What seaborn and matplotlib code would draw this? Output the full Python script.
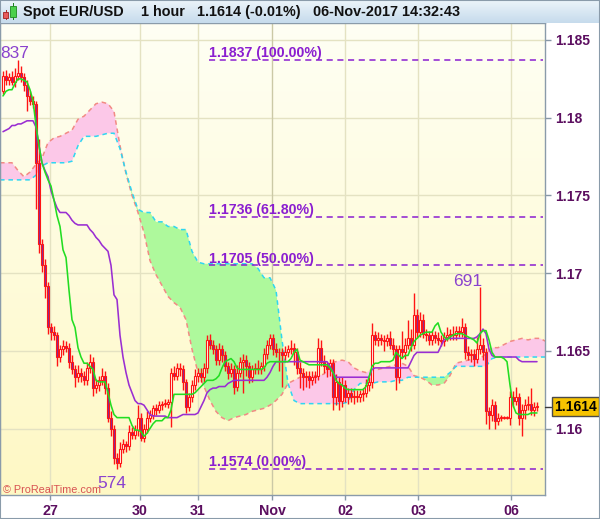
import numpy as np
import pandas as pd
import matplotlib
matplotlib.use("Agg")
import matplotlib.pyplot as plt
import matplotlib.transforms as mtransforms
from matplotlib.patches import Rectangle
import seaborn as sns

sns.set_style("white")
plt.rcParams["font.family"] = ["Liberation Sans", "DejaVu Sans"]

# ---------------------------------------------------------------- data
first_open = 1.1817
closes = [
    1.1827, 1.1824, 1.1826, 1.1823, 1.1827, 1.1829, 1.1826, 1.1821, 1.1814, 1.1811,
    1.1809, 1.1771, 1.1719, 1.1705, 1.1692, 1.1665, 1.1662, 1.1660, 1.1646, 1.1651,
    1.1653, 1.1652, 1.1643, 1.1638, 1.1633, 1.1636, 1.1634, 1.1631, 1.1639, 1.1643,
    1.1626, 1.1628, 1.1631, 1.1634, 1.1626, 1.1607, 1.1600, 1.1581, 1.1578, 1.1587,
    1.1590, 1.1589, 1.1598, 1.1596, 1.1599, 1.1607, 1.1594, 1.1600, 1.1607, 1.1609,
    1.1613, 1.1612, 1.1615, 1.1616, 1.1616, 1.1617, 1.1636, 1.1634, 1.1639, 1.1638,
    1.1630, 1.1614, 1.1620, 1.1628, 1.1634, 1.1636, 1.1633, 1.1639, 1.1657, 1.1654,
    1.1651, 1.1644, 1.1651, 1.1647, 1.1640, 1.1636, 1.1638, 1.1627, 1.1636, 1.1643,
    1.1644, 1.1640, 1.1633, 1.1638, 1.1639, 1.1638, 1.1640, 1.1648, 1.1654, 1.1658,
    1.1651, 1.1649, 1.1649, 1.1647, 1.1649, 1.1651, 1.1652, 1.1649, 1.1639, 1.1636,
    1.1633, 1.1634, 1.1631, 1.1633, 1.1634, 1.1652, 1.1643, 1.1640, 1.1638, 1.1642,
    1.1620, 1.1630, 1.1618, 1.1628, 1.1620, 1.1623, 1.1620, 1.1621, 1.1620, 1.1622,
    1.1623, 1.1628, 1.1630, 1.1660, 1.1657, 1.1658, 1.1657, 1.1656, 1.1658, 1.1654,
    1.1651, 1.1633, 1.1651, 1.1649, 1.1654, 1.1658, 1.1654, 1.1673, 1.1662, 1.1670,
    1.1661, 1.1660, 1.1657, 1.1660, 1.1658, 1.1657, 1.1656, 1.1659, 1.1660, 1.1661,
    1.1660, 1.1663, 1.1662, 1.1665, 1.1649, 1.1647, 1.1648, 1.1645, 1.1651, 1.1654,
    1.1649, 1.1611, 1.1609, 1.1615, 1.1605, 1.1607, 1.1607, 1.1607, 1.1607, 1.1620,
    1.1618, 1.1620, 1.1607, 1.1612, 1.1615, 1.1616, 1.1612, 1.1614, 1.1614,
]
up_wick_pips = [
    3, 4, 3, 4, 5, 8, 4, 3, 3, 3,
    3, 2, 15, 3, 4, 2, 3, 4, 2, 3,
    4, 3, 3, 4, 3, 5, 3, 3, 4, 5,
    3, 4, 3, 5, 3, 3, 4, 2, 3, 4,
    3, 2, 4, 3, 3, 8, 3, 3, 4, 3,
    2, 3, 3, 2, 3, 2, 3, 4, 3, 3,
    3, 2, 3, 3, 4, 3, 3, 3, 3, 4,
    3, 3, 4, 3, 3, 3, 4, 3, 5, 3,
    4, 3, 3, 3, 3, 5, 3, 4, 3, 3,
    3, 4, 3, 3, 4, 3, 5, 3, 3, 4,
    3, 3, 3, 4, 3, 6, 5, 4, 3, 3,
    3, 5, 3, 5, 3, 3, 3, 4, 4, 3,
    3, 4, 3, 8, 3, 4, 3, 3, 3, 5,
    4, 3, 3, 12, 4, 12, 6, 14, 4, 5,
    4, 3, 3, 3, 3, 4, 3, 3, 5, 3,
    5, 3, 3, 6, 3, 4, 3, 3, 8, 37,
    4, 3, 3, 4, 3, 3, 2, 1, 1, 4,
    4, 7, 3, 4, 4, 5, 10, 3, 3,
]
down_wick_pips = [
    2, 3, 3, 2, 3, 3, 3, 4, 10, 3,
    3, 30, 6, 4, 8, 4, 5, 3, 6, 3,
    4, 3, 4, 3, 6, 3, 4, 3, 3, 3,
    5, 3, 4, 3, 4, 3, 5, 4, 4, 3,
    3, 4, 3, 3, 3, 4, 2, 3, 3, 3,
    3, 3, 2, 3, 2, 3, 16, 3, 3, 4,
    5, 4, 3, 3, 3, 4, 3, 3, 3, 3,
    3, 3, 3, 4, 3, 4, 3, 5, 3, 3,
    20, 6, 4, 3, 3, 3, 3, 3, 3, 3,
    4, 3, 12, 20, 3, 3, 3, 8, 4, 10,
    8, 6, 5, 3, 4, 3, 3, 4, 5, 4,
    8, 5, 6, 4, 3, 4, 3, 4, 3, 3,
    4, 3, 4, 4, 3, 4, 3, 6, 3, 3,
    4, 8, 4, 3, 4, 3, 4, 3, 4, 3,
    3, 4, 3, 3, 3, 3, 3, 3, 3, 3,
    3, 3, 3, 3, 4, 3, 4, 5, 3, 3,
    5, 8, 9, 4, 5, 3, 2, 1, 1, 5,
    4, 3, 5, 12, 6, 3, 3, 4, 3,
]
tenkan = [
    1.1814, 1.1817, 1.1818, 1.1818, 1.1822, 1.1825, 1.1825, 1.1824, 1.1823, 1.1818,
    1.1811, 1.1795, 1.1782, 1.1771, 1.1765, 1.1760, 1.1756, 1.1747, 1.1737, 1.1730,
    1.1715, 1.1710, 1.1689, 1.1670, 1.1665, 1.1652, 1.1646, 1.1642, 1.1642, 1.1640,
    1.1638, 1.1631, 1.1630, 1.1630, 1.1630, 1.1623, 1.1615, 1.1609, 1.1607, 1.1607,
    1.1607, 1.1607, 1.1607, 1.1602, 1.1599, 1.1599, 1.1598, 1.1595, 1.1597, 1.1600,
    1.1603, 1.1605, 1.1605, 1.1605, 1.1607, 1.1607, 1.1612, 1.1622, 1.1622, 1.1622,
    1.1622, 1.1622, 1.1622, 1.1622, 1.1623, 1.1625, 1.1627, 1.1629, 1.1631, 1.1631,
    1.1631, 1.1632, 1.1634, 1.1639, 1.1643, 1.1644, 1.1645, 1.1643, 1.1639, 1.1638,
    1.1638, 1.1638, 1.1638, 1.1638, 1.1638, 1.1638, 1.1638, 1.1639, 1.1642, 1.1643,
    1.1643, 1.1643, 1.1643, 1.1643, 1.1643, 1.1643, 1.1645, 1.1649, 1.1651, 1.1644,
    1.1643, 1.1642, 1.1641, 1.1641, 1.1641, 1.1641, 1.1641, 1.1641, 1.1641, 1.1639,
    1.1636, 1.1631, 1.1629, 1.1628, 1.1626, 1.1625, 1.1625, 1.1625, 1.1625, 1.1625,
    1.1625, 1.1627, 1.1633, 1.1640, 1.1642, 1.1642, 1.1643, 1.1643, 1.1643, 1.1643,
    1.1644, 1.1649, 1.1647, 1.1645, 1.1647, 1.1647, 1.1652, 1.1656, 1.1658, 1.1660,
    1.1661, 1.1662, 1.1662, 1.1662, 1.1666, 1.1668, 1.1662, 1.1659, 1.1657, 1.1659,
    1.1660, 1.1661, 1.1661, 1.1661, 1.1660, 1.1659, 1.1658, 1.1657, 1.1655, 1.1661,
    1.1663, 1.1663, 1.1657, 1.1649, 1.1646, 1.1646, 1.1646, 1.1645, 1.1643, 1.1628,
    1.1615, 1.1610, 1.1609, 1.1609, 1.1609, 1.1609, 1.1610, 1.1610, 1.1610,
]
kijun = [
    1.1791, 1.1792, 1.1793, 1.1795, 1.1795, 1.1796, 1.1796, 1.1797, 1.1798, 1.1798,
    1.1798, 1.1794, 1.1782, 1.1771, 1.1766, 1.1762, 1.1753, 1.1747, 1.1742, 1.1739,
    1.1739, 1.1739, 1.1737, 1.1734, 1.1732, 1.1731, 1.1731, 1.1731, 1.1731, 1.1728,
    1.1726, 1.1723, 1.1721, 1.1718, 1.1716, 1.1714, 1.1705, 1.1686, 1.1683, 1.1660,
    1.1646, 1.1636, 1.1628, 1.1623, 1.1618, 1.1616, 1.1616, 1.1615, 1.1612, 1.1609,
    1.1608, 1.1608, 1.1608, 1.1608, 1.1608, 1.1607, 1.1607, 1.1607, 1.1607, 1.1608,
    1.1609, 1.1609, 1.1609, 1.1609, 1.1609, 1.1610, 1.1614, 1.1618, 1.1623, 1.1625,
    1.1626, 1.1626, 1.1627, 1.1627, 1.1627, 1.1629, 1.1630, 1.1631, 1.1631, 1.1631,
    1.1631, 1.1631, 1.1631, 1.1631, 1.1631, 1.1631, 1.1631, 1.1631, 1.1633, 1.1636,
    1.1640, 1.1643, 1.1643, 1.1643, 1.1643, 1.1643, 1.1643, 1.1643, 1.1643, 1.1643,
    1.1643, 1.1643, 1.1643, 1.1643, 1.1643, 1.1643, 1.1643, 1.1643, 1.1643, 1.1640,
    1.1636, 1.1633, 1.1633, 1.1633, 1.1633, 1.1633, 1.1633, 1.1633, 1.1633, 1.1633,
    1.1633, 1.1633, 1.1633, 1.1638, 1.1639, 1.1639, 1.1639, 1.1639, 1.1639, 1.1639,
    1.1639, 1.1639, 1.1639, 1.1639, 1.1639, 1.1639, 1.1643, 1.1647, 1.1649, 1.1649,
    1.1649, 1.1649, 1.1649, 1.1649, 1.1649, 1.1649, 1.1653, 1.1657, 1.1658, 1.1658,
    1.1658, 1.1658, 1.1658, 1.1658, 1.1658, 1.1658, 1.1658, 1.1658, 1.1659, 1.1661,
    1.1664, 1.1661, 1.1651, 1.1647, 1.1646, 1.1646, 1.1646, 1.1646, 1.1646, 1.1646,
    1.1646, 1.1646, 1.1644, 1.1643, 1.1643, 1.1643, 1.1643, 1.1643, 1.1643,
]
# leading spans (cloud), one value every two candles, starting one candle before the first
span_a = [
    1.1771, 1.1771, 1.1771, 1.1766, 1.1762, 1.1765, 1.1770, 1.1774, 1.1784, 1.1787,
    1.1788, 1.1790, 1.1792, 1.1799, 1.1801, 1.1805, 1.1809, 1.1810, 1.1809, 1.1804,
    1.1782, 1.1764, 1.1750, 1.1739, 1.1726, 1.1708, 1.1699, 1.1692, 1.1685, 1.1681,
    1.1678, 1.1670, 1.1651, 1.1636, 1.1627, 1.1618, 1.1611, 1.1607, 1.1605, 1.1607,
    1.1608, 1.1609, 1.1611, 1.1612, 1.1613, 1.1615, 1.1618, 1.1622, 1.1629, 1.1631,
    1.1633, 1.1633, 1.1634, 1.1634, 1.1635, 1.1642, 1.1643, 1.1644, 1.1643, 1.1639,
    1.1637, 1.1636, 1.1638, 1.1638, 1.1639, 1.1640, 1.1641, 1.1642, 1.1640, 1.1634,
    1.1633, 1.1631, 1.1628, 1.1628, 1.1629, 1.1634, 1.1642, 1.1643, 1.1644, 1.1645,
    1.1645, 1.1648, 1.1652, 1.1652, 1.1654, 1.1656, 1.1657, 1.1658, 1.1657, 1.1658,
    1.1658, 1.1656,
]
span_b = [
    1.1760, 1.1760, 1.1760, 1.1760, 1.1760, 1.1760, 1.1763, 1.1769, 1.1771, 1.1771,
    1.1771, 1.1771, 1.1772, 1.1782, 1.1788, 1.1788, 1.1788, 1.1789, 1.1790, 1.1790,
    1.1780, 1.1765, 1.1752, 1.1741, 1.1739, 1.1739, 1.1733, 1.1733, 1.1730, 1.1730,
    1.1728, 1.1728, 1.1714, 1.1707, 1.1706, 1.1706, 1.1706, 1.1706, 1.1706, 1.1706,
    1.1706, 1.1706, 1.1706, 1.1703, 1.1697, 1.1697, 1.1689, 1.1657, 1.1629, 1.1618,
    1.1616, 1.1616, 1.1616, 1.1616, 1.1616, 1.1616, 1.1616, 1.1616, 1.1617, 1.1625,
    1.1629, 1.1629, 1.1629, 1.1630, 1.1630, 1.1630, 1.1631, 1.1631, 1.1633, 1.1633,
    1.1633, 1.1633, 1.1633, 1.1633, 1.1633, 1.1636, 1.1640, 1.1640, 1.1640, 1.1640,
    1.1640, 1.1640, 1.1645, 1.1646, 1.1646, 1.1646, 1.1646, 1.1646, 1.1646, 1.1646,
    1.1646, 1.1646,
]
fib_levels = [1.1837, 1.1736, 1.1705, 1.1574]
fib_labels = ["1.1837 (100.00%)", "1.1736 (61.80%)", "1.1705 (50.00%)", "1.1574 (0.00%)"]
extreme_values = [1.1837, 1.1574, 1.1691]
extreme_labels = ["837", "574", "691"]
price_ticks = [1.16, 1.165, 1.17, 1.175, 1.18, 1.185]
price_tick_labels = ["1.16", "1.165", "1.17", "1.175", "1.18", "1.185"]
date_labels = ["27", "30", "31", "Nov", "02", "03", "06"]
last_price = 1.1614
last_price_label = "1.1614"

# ---------------------------------------------------------------- layout helpers
W, H = 600, 519
AX_L, AX_R, AX_T, AX_B = 0, 545, 23, 495
def px2idx(px):
    return (px - 3) / 3.0
Y_TOP = 1.187574 - 0.00006435 * AX_T
Y_BOT = 1.187574 - 0.00006435 * AX_B
date_px = [50, 140, 198, 272, 345, 418, 511]

TXT = "#5C0F60"
RED = "#FF1414"
DOWN_FILL = "#85299A"
PINK = "#FCC8E8"
GREENF = "#AEF99C"
SALMON = "#F28A84"
CYAN = "#2FD6F2"
TENKAN = "#22DD22"
KIJUN = "#9A2ED2"
FIB = "#8A1ED0"
EXT = "#8A42CE"

fig = plt.figure(figsize=(W / 100, H / 100), dpi=100)
fig.patch.set_facecolor("white")
ax = fig.add_axes([AX_L / W, 1 - AX_B / H, (AX_R - AX_L) / W, (AX_B - AX_T) / H])

xlim = (px2idx(0), px2idx(AX_R))
ylim = (Y_BOT, Y_TOP)

# background gradient
top_c = np.array([255, 255, 244]) / 255
bot_c = np.array([254, 248, 196]) / 255
t = np.linspace(0, 1, 256)[:, None]
grad = (top_c[None, :] * (1 - t) + bot_c[None, :] * t)[:, None, :]
ax.imshow(grad, extent=[xlim[0], xlim[1], ylim[0], ylim[1]], aspect="auto",
          origin="upper", zorder=0, interpolation="bilinear")

# grid
for p in price_ticks:
    ax.axhline(p, color="#E4E2C2", lw=1, zorder=0.5)
for p, lab in zip(date_px, date_labels):
    ax.axvline(px2idx(p), color="#CBC9A6" if lab == "Nov" else "#E4E2C2", lw=1, zorder=0.5)

# cloud
cloud_idx = np.arange(len(span_a)) * 2 - 1
a = np.array(span_a)
b = np.array(span_b)
ax.fill_between(cloud_idx, a, b, where=a >= b, interpolate=True, color=PINK, lw=0, zorder=1)
ax.fill_between(cloud_idx, a, b, where=a < b, interpolate=True, color=GREENF, lw=0, zorder=1)
df_cloud = pd.DataFrame({"idx": cloud_idx, "span_a": a, "span_b": b})
sns.lineplot(data=df_cloud, x="idx", y="span_a", color=SALMON, lw=1.1,
             linestyle=(0, (3, 2.5)), ax=ax, zorder=1.5)
sns.lineplot(data=df_cloud, x="idx", y="span_b", color=CYAN, lw=1.1,
             linestyle=(0, (3, 2.5)), ax=ax, zorder=1.6)

# fibonacci levels
fx0, fx1 = px2idx(209), px2idx(543)
ax.hlines(fib_levels, fx0, fx1, colors=FIB, linestyles=[(0, (4, 3))], lw=1.1, zorder=2)
for lvl, lab in zip(fib_levels, fib_labels):
    ax.annotate(lab, (fx0, lvl), xytext=(0, 2.0), textcoords="offset points",
                ha="left", va="baseline", fontsize=10.2, fontweight="bold",
                color=FIB, zorder=6)

# candles
n = len(closes)
idx = np.arange(n)
c = np.array(closes)
o = np.concatenate([[first_open], c[:-1]])
top = np.maximum(o, c)
bot = np.minimum(o, c)
highs = top + np.array(up_wick_pips) * 1e-4
lows = bot - np.array(down_wick_pips) * 1e-4
up = c >= o
ax.vlines(idx, lows, highs, color=RED, lw=1.0, zorder=3)
hgt = np.maximum(top - bot, 0.00003)
ax.bar(idx[up], hgt[up], bottom=bot[up], width=0.95, facecolor="#FFFEF2",
       edgecolor=RED, linewidth=0.8, zorder=3.2)
ax.bar(idx[~up], hgt[~up], bottom=bot[~up], width=0.95, facecolor=DOWN_FILL,
       edgecolor=RED, linewidth=0.8, zorder=3.2)

# ichimoku conversion / base lines
df_lines = pd.DataFrame({"idx": idx, "tenkan": tenkan, "kijun": kijun})
sns.lineplot(data=df_lines, x="idx", y="kijun", color=KIJUN, lw=1.15, ax=ax, zorder=4)
sns.lineplot(data=df_lines, x="idx", y="tenkan", color=TENKAN, lw=1.15, ax=ax, zorder=4.1)

# extreme labels
ext_pos = [(int(np.argmax(highs)), (-13.0, 1.5), "left"),
           (int(np.argmin(lows)), (-3.6, -14.0), "center"),
           (159, (-8.6, 0.7), "center")]
for val, lab, (i, off, ha) in zip(extreme_values, extreme_labels, ext_pos):
    ax.annotate(lab, (i, val), xytext=off, textcoords="offset points", ha=ha,
                va="baseline", fontsize=12.5, color=EXT, zorder=6)

ax.text(3 / 545, 2.2 / 472, "\u00a9 ProRealTime.com", transform=ax.transAxes,
        fontsize=7.8, color="#D85252", ha="left", va="baseline", zorder=6)

# axes cosmetics
ax.set_xlim(*xlim)
ax.set_ylim(*ylim)
ax.set_xlabel("")
ax.set_ylabel("")
ax.yaxis.tick_right()
ax.set_yticks(price_ticks)
ax.set_yticklabels(price_tick_labels, fontsize=10, fontweight="bold", color=TXT)
ax.set_xticks([px2idx(p) for p in date_px])
ax.set_xticklabels(date_labels, fontsize=10.3, fontweight="bold", color=TXT)
ax.tick_params(axis="y", which="major", right=True, left=False, length=4, width=1,
               color="#8797A6", pad=3)
ax.tick_params(axis="x", which="major", bottom=True, length=3.5, width=1,
               color="#8797A6", pad=3)
for s in ["left", "right", "bottom", "top"]:
    ax.spines[s].set_color("#8A9BAA")
    ax.spines[s].set_linewidth(1)
    ax.spines[s].set_visible(True)

# last price box
trans = mtransforms.blended_transform_factory(ax.transAxes, ax.transData)
ax.plot([1.0, 551 / 545], [last_price, last_price], transform=trans, color="#3A3A3A",
        lw=1, clip_on=False, zorder=9)
ax.text(554 / 545, last_price, last_price_label, transform=trans, ha="left", va="center",
        fontsize=10, fontweight="bold", color="black", clip_on=False, zorder=10,
        bbox=dict(boxstyle="square,pad=0.18", fc="#F6C300", ec="#4A4A4A", lw=1))

# title bar
ax_t = fig.add_axes([0, 1 - AX_T / H, 1, AX_T / H])
tb_top = np.array([236, 244, 250]) / 255
tb_bot = np.array([198, 219, 236]) / 255
tt = np.linspace(0, 1, 64)[:, None]
tgrad = (tb_top[None, :] * (1 - tt) + tb_bot[None, :] * tt)[:, None, :]
ax_t.imshow(tgrad, extent=[0, 1, 0, 1], aspect="auto", origin="upper")
ax_t.set_xlim(0, 1)
ax_t.set_ylim(0, 1)
ax_t.axis("off")
ty = 1 - 12 / H
for xpx, s in [(23, "Spot EUR/USD"), (141, "1 hour"), (197, "1.1614 (-0.01%)"),
               (313, "06-Nov-2017 14:32:43")]:
    fig.text(xpx / W, ty, s, fontsize=10.4, fontweight="bold", color="#111111",
             ha="left", va="center")
# small candle icon
fig.patches.append(Rectangle((5.5 / W, 1 - 20 / H), 1 / W, 10 / H, transform=fig.transFigure,
                             fc="#B03030", ec="none"))
fig.patches.append(Rectangle((3 / W, 1 - 18 / H), 5 / W, 6 / H, transform=fig.transFigure,
                             fc="#E85A5A", ec="#A02020", lw=0.6))
fig.patches.append(Rectangle((12.5 / W, 1 - 20 / H), 1 / W, 17 / H, transform=fig.transFigure,
                             fc="#208020", ec="none"))
fig.patches.append(Rectangle((10 / W, 1 - 17 / H), 6 / W, 11 / H, transform=fig.transFigure,
                             fc="#4CD04C", ec="#208A20", lw=0.6))

# outer frame
fig.patches.append(Rectangle((0, 0), 1, 1, transform=fig.transFigure, fill=False,
                             ec="#8A9BAA", lw=1.5))

fig.savefig("out.png", dpi=100, facecolor="white")
